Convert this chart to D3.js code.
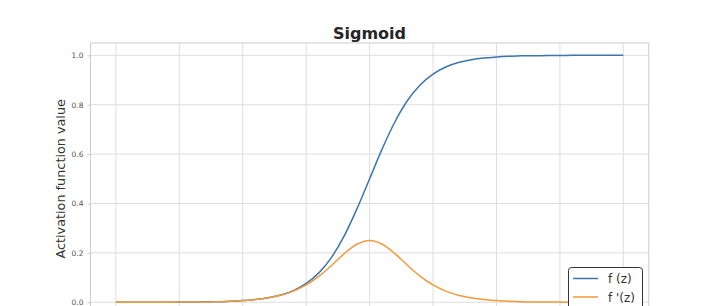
<!DOCTYPE html>
<html><head><meta charset="utf-8">
<script src="https://cdn.jsdelivr.net/npm/d3@7"></script>
<style>html,body{margin:0;padding:0;background:#fff;overflow:hidden}</style>
</head><body>
<svg id="c" width="720" height="306"></svg>
<script>
const zValues = [-10,-9.5,-9,-8.5,-8,-7.5,-7,-6.5,-6,-5.5,-5,-4.5,-4,-3.5,-3,-2.5,-2,-1.5,-1,-0.5,0,0.5,1,1.5,2,2.5,3,3.5,4,4.5,5,5.5,6,6.5,7,7.5,8,8.5,9,9.5,10];
const fValues = [0.000,0.000,0.000,0.000,0.000,0.001,0.001,0.002,0.002,0.004,0.007,0.011,0.018,0.029,0.047,0.076,0.119,0.182,0.269,0.378,0.500,0.622,0.731,0.818,0.881,0.924,0.953,0.971,0.982,0.989,0.993,0.996,0.998,0.998,0.999,0.999,1.000,1.000,1.000,1.000,1.000];
const dfValues = [0.000,0.000,0.000,0.000,0.000,0.001,0.001,0.001,0.002,0.004,0.007,0.011,0.018,0.028,0.045,0.070,0.105,0.149,0.197,0.235,0.250,0.235,0.197,0.149,0.105,0.070,0.045,0.028,0.018,0.011,0.007,0.004,0.002,0.001,0.001,0.001,0.000,0.000,0.000,0.000,0.000];
const xTicks = [-10,-7.5,-5,-2.5,0,2.5,5,7.5,10];
const yTicks = [0.0,0.2,0.4,0.6,0.8,1.0];
const seriesNames = ["f (z)", "f '(z)"];
const seriesColors = ["#3c76ae", "#f39a3c"];
const titleText = "Sigmoid";
const yLabelText = "Activation function value";

const svg = d3.select("#c");
const L = 90.5, R = 648.7, T = 43, B = 314.6;
const x = d3.scaleLinear().domain([-11, 11]).range([L, R]);
const y = d3.scaleLinear().domain([-0.05, 1.05]).range([B, T]);

// grid
const g = svg.append("g");
g.selectAll("line.vx").data(xTicks).join("line")
  .attr("x1", d => x(d)).attr("x2", d => x(d)).attr("y1", T).attr("y2", B)
  .attr("stroke", "#dedede").attr("stroke-width", 1);
g.selectAll("line.hy").data(yTicks).join("line")
  .attr("x1", L).attr("x2", R).attr("y1", d => y(d)).attr("y2", d => y(d))
  .attr("stroke", "#dedede").attr("stroke-width", 1);

// frame
svg.append("rect").attr("x", L).attr("y", T).attr("width", R - L).attr("height", B - T)
  .attr("fill", "none").attr("stroke", "#cccccc").attr("stroke-width", 1);

// y axis
const yAxis = d3.axisLeft(y).tickValues(yTicks).tickFormat(d3.format(".1f")).tickSize(3).tickPadding(4);
const ya = svg.append("g").attr("transform", `translate(${L},0)`).call(yAxis);
ya.select(".domain").remove();
ya.selectAll(".tick line").attr("stroke", "#cccccc");
ya.selectAll(".tick text").attr("fill", "#555").style("font-family", "DejaVu Sans").style("font-size", "7.5px");

// lines
const series = [fValues, dfValues];
const line = d3.line().curve(d3.curveMonotoneX);
series.forEach((vals, i) => {
  svg.append("path")
    .attr("d", line(zValues.map((z, k) => [x(z), y(vals[k])])))
    .attr("fill", "none").attr("stroke", seriesColors[i]).attr("stroke-width", 1.5);
});

// title
svg.append("text").attr("x", 369.5).attr("y", 38.5).attr("text-anchor", "middle")
  .style("font-family", "DejaVu Sans").style("font-weight", "bold").style("font-size", "16px")
  .attr("fill", "#262626").text(titleText);

// y label
svg.append("text").attr("transform", `translate(65,${(T + B) / 2}) rotate(-90)`)
  .attr("text-anchor", "middle")
  .style("font-family", "DejaVu Sans").style("font-size", "12.8px")
  .attr("fill", "#333").text(yLabelText);

// legend
const lg = svg.append("g");
lg.append("rect").attr("x", 568.5).attr("y", 267.5).attr("width", 74).attr("height", 46).attr("rx", 3)
  .attr("fill", "#fff").attr("stroke", "#333").attr("stroke-width", 1);
seriesNames.forEach((n, i) => {
  const yy = 278.5 + i * 18.5;
  lg.append("line").attr("x1", 573).attr("x2", 598).attr("y1", yy).attr("y2", yy)
    .attr("stroke", seriesColors[i]).attr("stroke-width", 1.5);
  lg.append("text").attr("x", 608).attr("y", yy + 4.5).style("font-family", "DejaVu Sans")
    .style("font-size", "12px").attr("fill", "#333").text(n);
});
</script>
</body></html>
